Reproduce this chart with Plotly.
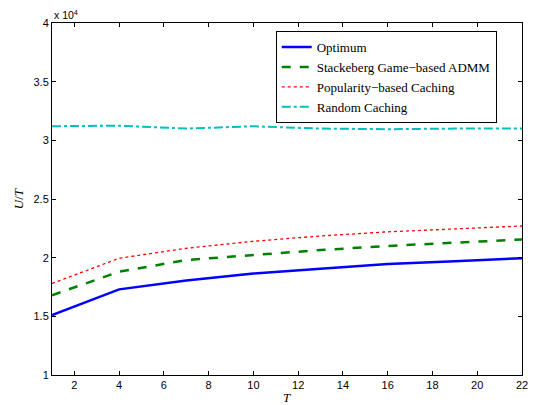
import plotly.graph_objects as go

T = [1, 4, 7, 10, 13, 16, 19, 22]
optimum = [15100, 17300, 18050, 18650, 19050, 19450, 19700, 19950]
stackelberg = [16800, 18800, 19800, 20250, 20650, 21000, 21250, 21550]
popularity = [17800, 19950, 20800, 21400, 21850, 22200, 22450, 22700]
random_caching = [31200, 31250, 31000, 31200, 31000, 30950, 31000, 31000]

x_ticks = [2, 4, 6, 8, 10, 12, 14, 16, 18, 20, 22]
y_tickvals = [10000, 15000, 20000, 25000, 30000, 35000, 40000]
y_ticktext = ["1", "1.5", "2", "2.5", "3", "3.5", "4"]

series = [
    ("Optimum", optimum, dict(color="#0000FF", width=2.5, dash="solid")),
    ("Stackeberg Game\u2212based ADMM", stackelberg, dict(color="#008000", width=2.5, dash="dash")),
    ("Popularity\u2212based Caching", popularity, dict(color="#FF0000", width=1.3, dash="dot")),
    ("Random Caching", random_caching, dict(color="#00BFBF", width=2, dash="dashdot")),
]

fig = go.Figure()
for name, ys, line in series:
    fig.add_trace(go.Scatter(x=T, y=ys, mode="lines", name=name, line=line))

axis_common = dict(
    showline=True, linecolor="black", linewidth=1, mirror="ticks",
    ticks="inside", ticklen=4, tickcolor="black", showgrid=False, zeroline=False,
    ticklabeloverflow="allow",
    tickfont=dict(family="Liberation Sans, Arial", size=11, color="black"),
)

fig.update_layout(
    width=534, height=405,
    margin=dict(l=52, r=6, t=23, b=30),
    paper_bgcolor="white", plot_bgcolor="white",
    xaxis=dict(range=[1, 22], tickvals=x_ticks, **axis_common),
    yaxis=dict(range=[10000, 40000], tickvals=y_tickvals, ticktext=y_ticktext, **axis_common),
    showlegend=True,
    legend=dict(
        x=0.476, y=0.977, xanchor="left", yanchor="top",
        bgcolor="white", bordercolor="black", borderwidth=1,
        font=dict(family="Liberation Serif, Times New Roman", size=13, color="black"),
        tracegroupgap=0, itemwidth=30,
    ),
    annotations=[
        dict(text="<i>T</i>", x=0.5, y=-0.065, xref="paper", yref="paper", xanchor="center", yanchor="middle",
             showarrow=False, font=dict(family="Liberation Serif, Times New Roman", size=13, color="black")),
        dict(text="<i>U</i>/<i>T</i>", x=-0.072, y=0.5, xref="paper", yref="paper", textangle=-90,
             xanchor="center", yanchor="middle", showarrow=False,
             font=dict(family="Liberation Serif, Times New Roman", size=13, color="black")),
        dict(text="x 10<sup>4</sup>", x=0.0, y=1.0, xref="paper", yref="paper", xanchor="left", yanchor="bottom",
             showarrow=False, yshift=0,
             font=dict(family="Liberation Sans, Arial", size=10.5, color="black")),
    ],
)

fig.write_html("out.html")
